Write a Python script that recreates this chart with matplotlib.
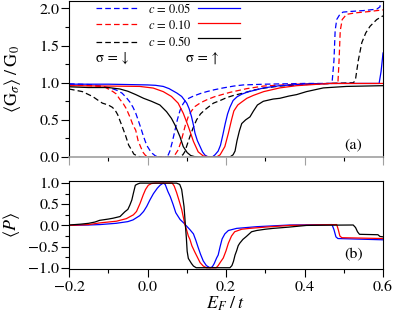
import matplotlib
matplotlib.use("Agg")
import matplotlib.pyplot as plt
from matplotlib.ticker import MultipleLocator
from matplotlib.lines import Line2D

plt.rcParams['font.family'] = ['STIXGeneral', 'DejaVu Serif']
plt.rcParams['mathtext.fontset'] = 'stix'

# ---------------- data: top panel (conductance) ----------------
# spin-down (dashed)
x_dn_005 = [-0.2, -0.15, -0.116, -0.09, -0.079, -0.065, -0.054, -0.045, -0.037, -0.03, -0.024, -0.017,
            -0.011, -0.005, 0.0, 0.006, 0.012, 0.02, 0.028, 0.048, 0.053, 0.057, 0.063, 0.07, 0.076,
            0.083, 0.09, 0.095, 0.105, 0.117, 0.135, 0.151, 0.17, 0.193, 0.22, 0.244, 0.3, 0.4, 0.47,
            0.475, 0.478, 0.482, 0.49, 0.498, 0.52, 0.549, 0.584, 0.592, 0.6]
g_dn_005 = [0.986, 0.975, 0.955, 0.92, 0.9, 0.86, 0.8, 0.74, 0.67, 0.59, 0.5, 0.39,
            0.29, 0.2, 0.14, 0.09, 0.05, 0.015, 0.0, 0.0, 0.03, 0.08, 0.2, 0.36, 0.5,
            0.63, 0.71, 0.75, 0.79, 0.82, 0.855, 0.88, 0.905, 0.93, 0.955, 0.97, 0.98, 0.99, 0.99,
            1.3, 1.7, 1.85, 1.92, 1.95, 1.96, 1.97, 1.99, 2.02, 2.25]

x_dn_010 = [-0.2, -0.15, -0.11, -0.088, -0.08, -0.071, -0.062, -0.054, -0.045, -0.037, -0.03, -0.024,
            -0.017, -0.011, -0.005, 0.002, 0.062, 0.07, 0.078, 0.085, 0.091, 0.097, 0.104, 0.112,
            0.121, 0.135, 0.151, 0.17, 0.193, 0.21, 0.253, 0.296, 0.38, 0.465, 0.485, 0.488, 0.491,
            0.496, 0.507, 0.53, 0.56, 0.6]
g_dn_010 = [0.973, 0.96, 0.945, 0.88, 0.85, 0.78, 0.72, 0.65, 0.54, 0.43, 0.36, 0.22,
            0.13, 0.06, 0.02, 0.0, 0.0, 0.03, 0.095, 0.2, 0.32, 0.44, 0.545, 0.62,
            0.68, 0.73, 0.77, 0.81, 0.845, 0.87, 0.92, 0.955, 0.98, 0.99, 0.99, 1.3, 1.7,
            1.85, 1.92, 1.94, 1.955, 1.98]

x_dn_050 = [-0.2, -0.185, -0.166, -0.15, -0.14, -0.125, -0.115, -0.1, -0.09, -0.083, -0.076, -0.071,
            -0.063, -0.056, -0.048, -0.04, -0.035, -0.025, -0.015, 0.08, 0.09, 0.095, 0.1, 0.108,
            0.116, 0.125, 0.135, 0.146, 0.157, 0.168, 0.185, 0.202, 0.22, 0.244, 0.27, 0.3, 0.337,
            0.4, 0.465, 0.525, 0.53, 0.537, 0.546, 0.556, 0.567, 0.584, 0.6]
g_dn_050 = [0.915, 0.9, 0.88, 0.84, 0.815, 0.76, 0.725, 0.7, 0.67, 0.635, 0.57, 0.5,
            0.39, 0.29, 0.16, 0.09, 0.04, 0.01, 0.0, 0.0, 0.03, 0.07, 0.15, 0.275,
            0.39, 0.5, 0.58, 0.635, 0.68, 0.725, 0.76, 0.8, 0.83, 0.86, 0.9, 0.93, 0.955,
            0.975, 0.99, 1.0, 1.05, 1.3, 1.54, 1.67, 1.76, 1.85, 1.9]

# spin-up (solid)
x_up_005 = [-0.2, -0.15, -0.1, -0.05, 0.0, 0.02, 0.04, 0.055, 0.065, 0.075, 0.087, 0.1, 0.106,
            0.112, 0.117, 0.121, 0.127, 0.134, 0.14, 0.146, 0.152, 0.159, 0.165, 0.172, 0.18, 0.186,
            0.192, 0.198, 0.204, 0.21, 0.218, 0.228, 0.24, 0.255, 0.27, 0.296, 0.337, 0.4, 0.465,
            0.59, 0.595, 0.6]
g_up_005 = [0.98, 0.98, 0.98, 0.975, 0.97, 0.965, 0.95, 0.92, 0.89, 0.86, 0.815, 0.725, 0.65,
            0.545, 0.43, 0.32, 0.22, 0.14, 0.07, 0.027, 0.008, 0.0, 0.0, 0.03, 0.08, 0.16,
            0.3, 0.45, 0.58, 0.67, 0.76, 0.81, 0.845, 0.875, 0.895, 0.93, 0.96, 0.98, 0.99,
            0.99, 1.15, 1.4]

x_up_010 = [-0.2, -0.1, -0.02, 0.0145, 0.04, 0.061, 0.078, 0.091, 0.104, 0.117, 0.129, 0.142,
            0.159, 0.176, 0.185, 0.197, 0.206, 0.214, 0.22, 0.23, 0.24, 0.253, 0.27, 0.296, 0.337,
            0.38, 0.465, 0.6]
g_up_010 = [0.96, 0.955, 0.95, 0.928, 0.88, 0.815, 0.725, 0.59, 0.41, 0.21, 0.07, 0.014,
            0.0, 0.0, 0.03, 0.14, 0.32, 0.5, 0.62, 0.7, 0.74, 0.79, 0.83, 0.88, 0.93,
            0.96, 0.99, 0.99]

x_up_050 = [-0.2, -0.15, -0.1, -0.07, -0.05, -0.03, -0.01, 0.01, 0.0315, 0.0485, 0.061, 0.07,
            0.0826, 0.091, 0.101, 0.11, 0.12, 0.13, 0.21, 0.218, 0.223, 0.228, 0.234, 0.24, 0.25,
            0.261, 0.27, 0.28, 0.295, 0.32, 0.337, 0.36, 0.38, 0.405, 0.448, 0.507, 0.6]
g_up_050 = [0.945, 0.935, 0.935, 0.915, 0.885, 0.84, 0.79, 0.75, 0.7, 0.61, 0.52, 0.43,
            0.275, 0.14, 0.06, 0.02, 0.005, 0.0, 0.0, 0.03, 0.08, 0.22, 0.35, 0.45, 0.5,
            0.54, 0.62, 0.7, 0.75, 0.78, 0.79, 0.82, 0.84, 0.88, 0.93, 0.95, 0.96]

# ---------------- data: bottom panel (polarization) ----------------
x_p_005 = [-0.2, -0.15, -0.121, -0.08, -0.05, -0.037, -0.02, -0.01, -0.002, 0.006, 0.015, 0.025,
           0.032, 0.04, 0.045, 0.052, 0.058, 0.065, 0.072, 0.083, 0.092, 0.1, 0.108, 0.117, 0.123,
           0.129, 0.135, 0.142, 0.15, 0.159, 0.165, 0.17, 0.176, 0.18, 0.185, 0.19, 0.197, 0.206,
           0.227, 0.278, 0.363, 0.47, 0.475, 0.48, 0.485, 0.6]
p_005 = [0.0, 0.01, 0.02, 0.05, 0.09, 0.13, 0.23, 0.33, 0.45, 0.6, 0.75, 0.88,
         0.95, 1.0, 0.97, 0.8, 0.68, 0.5, 0.3, 0.14, 0.06, -0.02, -0.1, -0.2, -0.35,
         -0.52, -0.68, -0.84, -0.95, -1.0, -0.98, -0.9, -0.77, -0.7, -0.5, -0.32, -0.2, -0.12,
         -0.07, -0.03, 0.01, 0.02, -0.1, -0.27, -0.31, -0.34]

x_p_010 = [-0.2, -0.15, -0.121, -0.079, -0.054, -0.036, -0.028, -0.019, -0.011, -0.005, 0.002,
           0.01, 0.02, 0.063, 0.068, 0.074, 0.08, 0.087, 0.095, 0.1, 0.104, 0.108, 0.113, 0.12,
           0.127, 0.134, 0.142, 0.15, 0.175, 0.18, 0.187, 0.193, 0.2, 0.206, 0.214, 0.222, 0.24,
           0.26, 0.3, 0.363, 0.45, 0.482, 0.486, 0.49, 0.495, 0.6]
p_010 = [0.0, 0.02, 0.06, 0.1, 0.16, 0.25, 0.33, 0.52, 0.72, 0.85, 0.95,
         0.99, 1.0, 1.0, 0.93, 0.78, 0.6, 0.38, 0.03, -0.12, -0.25, -0.33, -0.48, -0.62,
         -0.75, -0.88, -0.96, -1.0, -1.0, -0.95, -0.85, -0.77, -0.6, -0.42, -0.25, -0.15, -0.09,
         -0.07, -0.04, 0.0, 0.015, 0.02, -0.1, -0.25, -0.29, -0.31]

x_p_050 = [-0.2, -0.17, -0.15, -0.134, -0.122, -0.1, -0.088, -0.07, -0.058, -0.05, -0.045, -0.04,
           -0.036, -0.031, -0.025, -0.019, 0.074, 0.082, 0.087, 0.09, 0.093, 0.095, 0.097, 0.099,
           0.101, 0.104, 0.108, 0.112, 0.117, 0.124, 0.21, 0.215, 0.219, 0.223, 0.227, 0.231,
           0.235, 0.243, 0.252, 0.265, 0.278, 0.3, 0.32, 0.36, 0.405, 0.45, 0.524, 0.53, 0.535,
           0.54, 0.587, 0.592, 0.6]
p_050 = [0.01, 0.03, 0.05, 0.08, 0.12, 0.15, 0.17, 0.21, 0.32, 0.38, 0.48, 0.6,
         0.76, 0.95, 0.98, 1.0, 1.0, 0.97, 0.85, 0.65, 0.45, 0.2, -0.06, -0.3,
         -0.61, -0.78, -0.84, -0.9, -0.96, -1.0, -1.0, -0.95, -0.85, -0.7, -0.6, -0.48,
         -0.42, -0.33, -0.26, -0.15, -0.12, -0.09, -0.07, -0.04, 0.0, 0.005, 0.01, -0.05, -0.15,
         -0.21, -0.22, -0.26, -0.27]

labels = ['$c$ = 0.05', '$c$ = 0.10', '$c$ = 0.50']
colors = ['#0000ff', '#ff0000', '#000000']

# ---------------- figure ----------------
fig = plt.figure(figsize=(3.95, 3.22), dpi=100)
ax1 = fig.add_axes([0.1747, 0.5124, 0.795, 0.4846])
ax2 = fig.add_axes([0.1747, 0.1646, 0.795, 0.2733])

lw = 0.9
dash = (0, (4.5, 2.5))
dn_sets = [(x_dn_005, g_dn_005), (x_dn_010, g_dn_010), (x_dn_050, g_dn_050)]
up_sets = [(x_up_005, g_up_005), (x_up_010, g_up_010), (x_up_050, g_up_050)]
p_sets = [(x_p_005, p_005), (x_p_010, p_010), (x_p_050, p_050)]

for (x, y), c in zip(dn_sets, colors):
    ax1.plot(x, y, color=c, lw=lw, ls=dash)
for (x, y), c in zip(up_sets, colors):
    ax1.plot(x, y, color=c, lw=lw)
for (x, y), c in zip(p_sets, colors):
    ax2.plot(x, y, color=c, lw=lw)

for ax in (ax1, ax2):
    ax.set_xlim(-0.2, 0.6)
    ax.xaxis.set_major_locator(MultipleLocator(0.2))
    ax.xaxis.set_minor_locator(MultipleLocator(0.1))
    ax.yaxis.set_major_locator(MultipleLocator(0.5))
    ax.yaxis.set_minor_locator(MultipleLocator(0.25))
    ax.tick_params(which='major', direction='out', length=5.5, width=0.8, labelsize=11.5, pad=1.5)
    ax.tick_params(which='minor', direction='out', length=2.8, width=0.8)
    ax.tick_params(axis='x', which='major', pad=3)
    for s in ax.spines.values():
        s.set_linewidth(0.8)

ax1.set_ylim(0, 2.1)
ax2.set_ylim(-1.03, 1.05)
ax1.tick_params(axis='x', labelbottom=False, colors='#a0a0a0')
ax1.spines['bottom'].set_color('#a0a0a0')
ax1.spines['bottom'].set_linewidth(1.2)

ax1.set_ylabel(r'$\langle\mathrm{G}_{\sigma}\rangle\;/\;\mathrm{G}_0$', fontsize=13)
ax1.yaxis.set_label_coords(-0.148, 0.5)
ax2.set_ylabel(r'$\langle P\rangle$', fontsize=13)
ax2.yaxis.set_label_coords(-0.15, 0.5)
ax2.set_xlabel(r'$E_F\;/\;t$', fontsize=13, labelpad=0)

# legend: dashed (σ=↓) column with labels, solid (σ=↑) column
handles = [Line2D([], [], color=c, lw=lw, ls=dash) for c in colors] + \
          [Line2D([], [], color=c, lw=lw) for c in colors]
leg_labels = labels + ['', '', '']
ax1.legend(handles, leg_labels, ncol=2, loc='upper left', bbox_to_anchor=(0.085, 0.995),
           frameon=False, fontsize=9, handlelength=3.3, handletextpad=0.9,
           columnspacing=0.5, labelspacing=0.25, borderpad=0, borderaxespad=0)

ax1.text(0.137, 0.635, r'σ = ↓', transform=ax1.transAxes, ha='center', va='center', fontsize=10.5)
ax1.text(0.425, 0.635, r'σ = ↑', transform=ax1.transAxes, ha='center', va='center', fontsize=10.5)
ax1.text(0.905, 0.08, '(a)', transform=ax1.transAxes, ha='center', va='center', fontsize=11.5)
ax2.text(0.905, 0.16, '(b)', transform=ax2.transAxes, ha='center', va='center', fontsize=11.5)

fig.savefig('out.png', dpi=100)
